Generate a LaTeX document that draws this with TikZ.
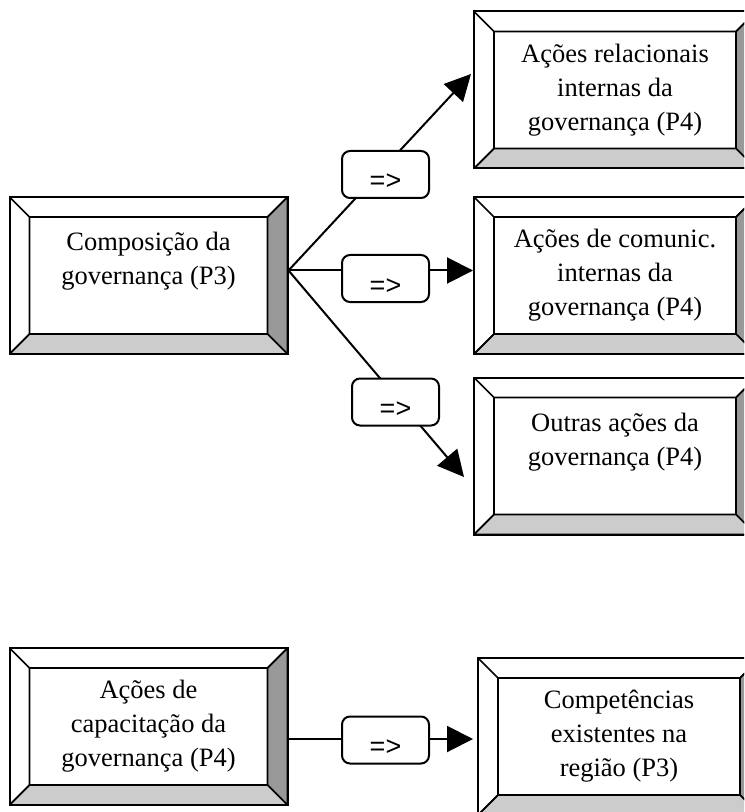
\documentclass[tikz,border=0pt]{standalone}
\usepackage{fontspec}
\setmainfont{Liberation Serif}
\newfontfamily\lblfont{Liberation Sans}
\usetikzlibrary{calc,arrows.meta}

\tikzset{
  bevelbox/.style={draw, line width=1pt, fill=white, minimum width=#1, minimum height=78.5pt,
    align=center, font=\fontsize{13.25}{17}\selectfont,
    path picture={
      \coordinate (o1) at (path picture bounding box.north west);
      \coordinate (o2) at (path picture bounding box.north east);
      \coordinate (o3) at (path picture bounding box.south east);
      \coordinate (o4) at (path picture bounding box.south west);
      \coordinate (i1) at ($(o1)+(10pt,-10pt)$);
      \coordinate (i2) at ($(o2)+(-10pt,-10pt)$);
      \coordinate (i3) at ($(o3)+(-10pt,10pt)$);
      \coordinate (i4) at ($(o4)+(10pt,10pt)$);
      \filldraw[line width=0.8pt, fill=gray!80] (o2) -- (o3) -- (i3) -- (i2) -- cycle;
      \filldraw[line width=0.8pt, fill=gray!40] (o3) -- (o4) -- (i4) -- (i3) -- cycle;
      \draw[line width=0.8pt] (o1) -- (i1) -- (i2) -- (o2) (o4) -- (i4) -- (i1);
    }},
  bevelbox/.default=139pt,
  lbl/.style={draw, line width=1pt, fill=white, rounded corners=4pt,
    minimum width=43.5pt, minimum height=23.5pt, text height=15.5pt, text depth=0pt,
    font=\lblfont\fontsize{13.5}{15}\selectfont},
  arr/.style={line width=1pt, -{Triangle[length=13pt,width=13pt]}},
}

\begin{document}
\begin{tikzpicture}[x=0.5pt, y=-0.5pt]
  \useasboundingbox (0,0) rectangle (744,812);
  \clip (0,0) rectangle (744,812);

  % 1. Caixas
  \node[bevelbox] (comp) at (148.5,275.5) {Composição da\\governança (P3)\\[-5pt] \strut};
  \node[bevelbox=141pt] (rel) at (615,90) {Ações relacionais\\internas da\\governança (P4)};
  \node[bevelbox=141pt] (com) at (615,275.5) {Ações de comunic.\\internas da\\governança (P4)};
  \node[bevelbox=141pt] (out) at (615,456) {Outras ações da\\governança (P4)\\[-5pt] \strut};
  \node[bevelbox] (cap) at (148.5,726.5) {Ações de\\capacitação da\\governança (P4)};
  \node[bevelbox=141pt] (cpt) at (619,736.5) {Competências\\existentes na\\região (P3)};

  % 2. Setas
  \coordinate (hub) at ([yshift=2.5pt]comp.east);
  \coordinate (t1) at ([xshift=-1pt,yshift=8pt]rel.west);
  \coordinate (t3) at ([xshift=-4.5pt,yshift=-10.5pt]out.west);
  \coordinate (cs) at ([yshift=-6.25pt]cap.east);
  \draw[arr] (hub) -- (t1);
  \draw[arr] (hub) -- (hub -| com.west);
  \draw[arr] (hub) -- (t3);
  \draw[arr] (cs) -- ([xshift=-2pt]cpt.west |- cs);

  % 3. Rótulos
  \node[lbl] (l1) at (385.5,174.5) {=>\hspace{5pt}};
  \node[lbl] (l2) at (385.5,278.5) {=>\hspace{5pt}};
  \node[lbl] (l3) at (395.5,402) {=>\hspace{5pt}};
  \node[lbl] (l4) at (385.5,740) {=>\hspace{5pt}};

\end{tikzpicture}
\end{document}
